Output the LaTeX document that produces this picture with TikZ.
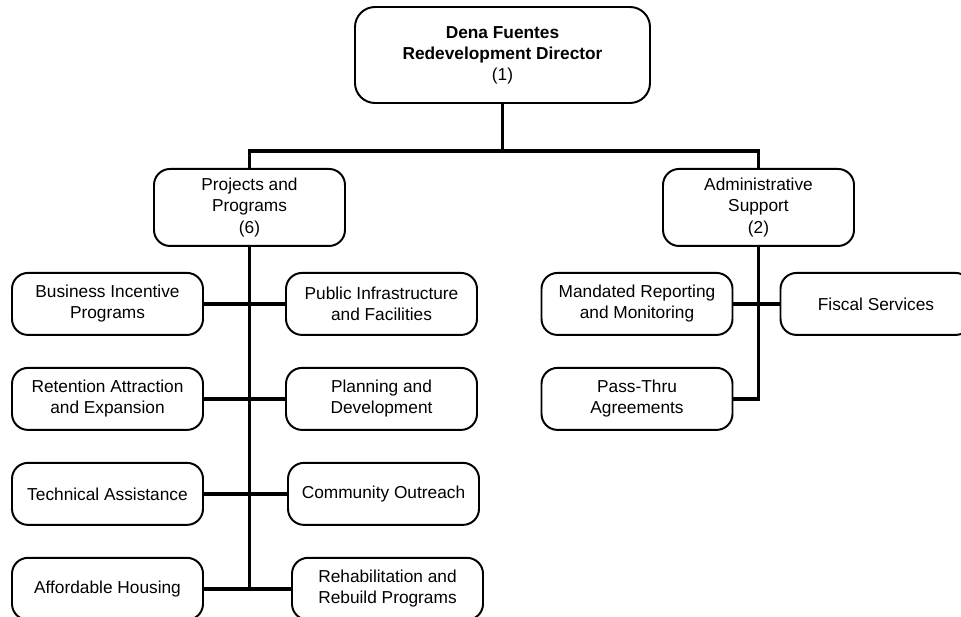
\documentclass[tikz,border=0pt]{standalone}
\usepackage{fontspec}
\setmainfont{Liberation Sans}
\usepackage{tikz}
\usetikzlibrary{positioning, calc}
\tikzset{
  %% Director box at the top
  topbox/.style={
    rectangle, rounded corners=0.5cm,
    draw=black, fill=white, line width=1.4pt,
    minimum width=7.375cm, minimum height=2.4cm,
    align=center, inner sep=0pt
  },
  %% Division box
  unitbox/.style={
    rectangle, rounded corners=0.4cm,
    draw=black, fill=white, line width=1.4pt,
    minimum width=4.775cm, minimum height=1.925cm,
    align=center, inner sep=0pt
  },
  %% Function box
  leafbox/.style={
    rectangle, rounded corners=0.4cm,
    draw=black, fill=white, line width=1.4pt,
    minimum width=4.775cm, minimum height=1.55cm,
    align=center, inner sep=0pt
  },
  %% Connector
  conn/.style={draw=black, line width=2.8pt},
}

\begin{document}
\begin{tikzpicture}[every node/.style={font=\fontsize{12.3}{15}\selectfont}]

  \useasboundingbox (0,0) rectangle (24.025,-15.425);

  \node[topbox] (dir) at (12.5625,-1.375)
       {\textbf{Dena Fuentes}\\\textbf{Redevelopment Director}\\(1)};

  \node[unitbox, below=1.6cm of dir, xshift=-6.325cm] (proj)
       {Projects and\\Programs\\(6)};
  \node[unitbox, below=1.6cm of dir, xshift=6.4cm] (admin)
       {Administrative\\Support\\(2)};

  %% Projects and Programs
  \node[leafbox, below=0.625cm of proj, xshift=-3.55cm] (biz)
       {Business Incentive\\Programs};
  \node[leafbox, below=0.775cm of biz] (ret)
       {Retention Attraction\\and Expansion};
  \node[leafbox, below=0.775cm of ret] (tech)
       {Technical Assistance};
  \node[leafbox, below=0.775cm of tech] (aff)
       {Affordable Housing};

  \node[leafbox, below=0.625cm of proj, xshift=3.3cm] (pub)
       {Public Infrastructure\\and Facilities};
  \node[leafbox, below=0.775cm of pub] (plan)
       {Planning and\\Development};
  \node[leafbox, below=0.775cm of plan, xshift=0.05cm] (comm)
       {Community Outreach};
  \node[leafbox, below=0.775cm of comm, xshift=0.1cm] (rehab)
       {Rehabilitation and\\Rebuild Programs};

  %% Administrative Support
  \node[leafbox, below=0.625cm of admin, xshift=-3.0375cm] (mand)
       {Mandated Reporting\\and Monitoring};
  \node[leafbox, below=0.775cm of mand] (pass)
       {Pass-Thru\\Agreements};
  \node[leafbox, below=0.625cm of admin, xshift=2.9375cm] (fisc)
       {Fiscal Services};

  \coordinate (bus) at ($(proj.north)+(0,0.425)$);
  \draw[conn] (dir.south) -- (dir.south |- bus);
  \draw[conn] (proj.north) -- (bus) -| (admin.north);

  \draw[conn] (proj.south) -- (proj.south |- aff.east);
  \foreach \a/\b in {biz/pub, ret/plan, tech/comm, aff/rehab}
    \draw[conn] (\a.east) -- (\b.west);

  \draw[conn] (admin.south) |- (pass.east);
  \draw[conn] (mand.east) -- (fisc.west);

\end{tikzpicture}
\end{document}
